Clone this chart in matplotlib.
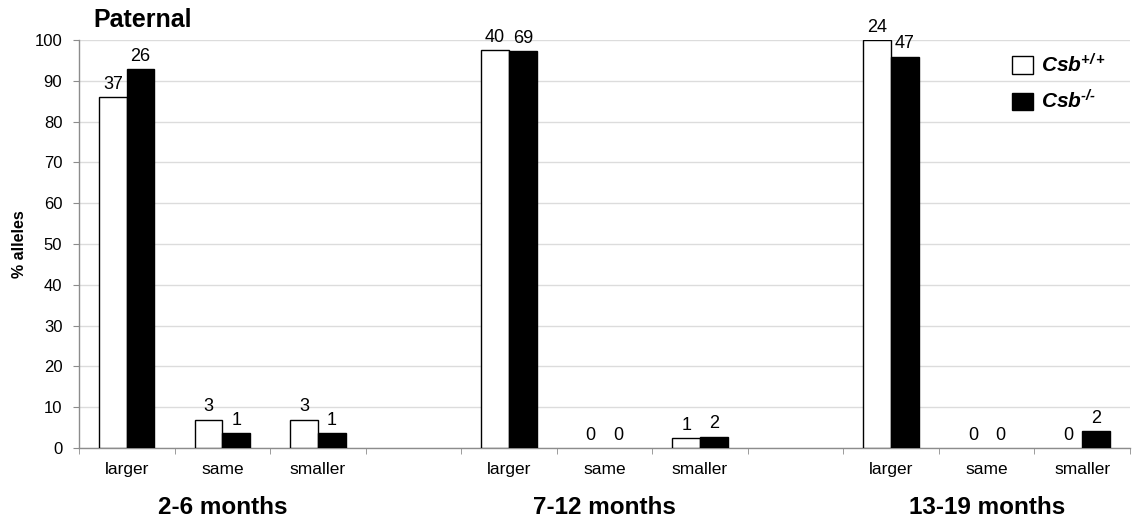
import numpy as np
import matplotlib
matplotlib.use('Agg')
import matplotlib.pyplot as plt
from matplotlib.patches import Patch

plt.rcParams['font.family'] = 'Liberation Sans'
plt.rcParams['mathtext.fontset'] = 'custom'
plt.rcParams['mathtext.rm'] = 'Liberation Sans'
plt.rcParams['mathtext.it'] = 'Liberation Sans:italic'
plt.rcParams['mathtext.bf'] = 'Liberation Sans:bold'
plt.rcParams['mathtext.bfit'] = 'Liberation Sans:italic:bold'

# allele counts per age group (larger / same / smaller)
grupos = ['2-6 months', '7-12 months', '13-19 months']
categorias = ['larger', 'same', 'smaller']
csb_wt = [[37, 3, 3], [40, 0, 1], [24, 0, 0]]
csb_ko = [[26, 1, 1], [69, 0, 2], [47, 0, 2]]

cinza = '#8c8c8c'

fig = plt.figure(figsize=(11.32, 5.25), dpi=100)
ax = fig.add_axes([79 / 1132, 1 - 448 / 525, (1130 - 79) / 1132, 408 / 525])

largura = 0.29
posicoes = []
for g in range(len(grupos)):
    x = np.arange(len(categorias)) + g * 4
    posicoes.extend(x)
    wt = np.array(csb_wt[g], dtype=float)
    ko = np.array(csb_ko[g], dtype=float)
    pct_wt = wt / wt.sum() * 100
    pct_ko = ko / ko.sum() * 100

    b1 = ax.bar(x - largura / 2, pct_wt, largura, color='white', edgecolor='black',
                linewidth=[1.0 if v > 0 else 0 for v in pct_wt], zorder=3)
    b2 = ax.bar(x + largura / 2, pct_ko, largura, color='black', edgecolor='black',
                linewidth=[1.0 if v > 0 else 0 for v in pct_ko], zorder=3)

    for barras, contagens in ((b1, csb_wt[g]), (b2, csb_ko[g])):
        for barra, n in zip(barras, contagens):
            ax.annotate(str(n), (barra.get_x() + barra.get_width() / 2, barra.get_height()),
                        xytext=(0, 3), textcoords='offset points',
                        ha='center', va='bottom', fontsize=13)

    ax.text(g * 4 + 1, -0.145, grupos[g], transform=ax.get_xaxis_transform(),
            ha='center', va='center', fontsize=17.5, fontweight='bold')

ax.set_xlim(-0.5, 10.5)
ax.set_ylim(0, 100)
ax.set_yticks(range(0, 101, 10))
ax.set_xticks(posicoes)
ax.set_xticklabels(categorias * len(grupos), fontsize=12.5)
ax.set_xticks(np.arange(-0.5, 11, 1), minor=True)
ax.tick_params(axis='x', which='major', length=0, pad=10)
ax.tick_params(axis='x', which='minor', length=4, color=cinza, direction='out')
ax.tick_params(axis='y', length=4, color=cinza, labelsize=12, pad=8)

ax.yaxis.grid(True, color='#dcdcdc', linewidth=1.0)
ax.set_axisbelow(True)
for lado in ('top', 'right'):
    ax.spines[lado].set_visible(False)
for lado in ('left', 'bottom'):
    ax.spines[lado].set_color(cinza)
    ax.spines[lado].set_linewidth(1.0)

fig.text(93 / 1132, 1 - 20 / 525, 'Paternal', ha='left', va='center',
         fontsize=18, fontweight='bold')
fig.text(20 / 1132, 1 - 244 / 525, '% alleles', ha='center', va='center',
         rotation=90, fontsize=11.5, fontweight='bold')

handles = [Patch(facecolor='white', edgecolor='black', linewidth=1.0),
           Patch(facecolor='black', edgecolor='black', linewidth=1.0)]
labels = [r'$\mathbfit{Csb}^{\mathbfit{+/+}}$', '$\\mathbfit{Csb}^{\\mathbfit{\u2010/\u2010}}$']
fig.legend(handles, labels, loc='upper left', bbox_to_anchor=(1012 / 1132, 1 - 53 / 525),
           frameon=False, fontsize=15, handlelength=1.0, handleheight=0.9,
           handletextpad=0.4, labelspacing=0.65, borderpad=0, borderaxespad=0)

fig.savefig('out.png', dpi=100)
